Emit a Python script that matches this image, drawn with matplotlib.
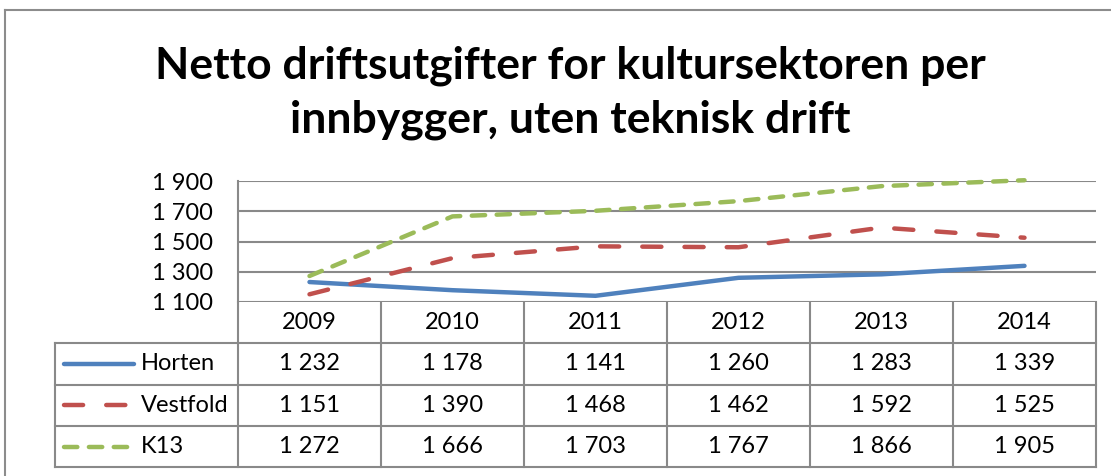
import matplotlib
matplotlib.use("Agg")
import matplotlib.pyplot as plt
from matplotlib.lines import Line2D

# data
years = ["2009", "2010", "2011", "2012", "2013", "2014"]
horten = [1232, 1178, 1141, 1260, 1283, 1339]
vestfold = [1151, 1390, 1468, 1462, 1592, 1525]
k13 = [1272, 1666, 1703, 1767, 1866, 1905]
series_names = ["Horten", "Vestfold", "K13"]
yticks = [1100, 1300, 1500, 1700, 1900]

title = "Netto driftsutgifter for kultursektoren per\ninnbygger, uten teknisk drift"

colors = ["#4F81BD", "#C0504D", "#9BBB59"]
dashes = [None, (4.3, 5.2), (3.0, 2.6)]
grid_c = "#898989"
font = ["Lato", "DejaVu Sans"]
plt.rcParams['font.family'] = font

W, H = 1111, 476
fig = plt.figure(figsize=(W / 100, H / 100), dpi=100)

# layout in pixels (from top-left)
px_left, px_right = 238, 1096
px_top, px_bot = 181, 302
tbl_left = 55
row_h = 41.3
lw_series = 3.2

def fx(x):
    return x / W

def fy(y):
    return 1 - y / H

def fmt(v):
    return f"{v:,}".replace(",", " ")

# overlay axes in pixel units for frame and table
ov = fig.add_axes([0, 0, 1, 1])
ov.set_xlim(0, W)
ov.set_ylim(H, 0)
ov.axis("off")

# chart frame
ov.plot([5, 5], [10, H + 5], color="#8c8c8c", lw=1.5)
ov.plot([5, W + 5], [10, 10], color="#8c8c8c", lw=1.5)

# title (baseline of the last line)
ov.text(570, 132, title, ha="center", va="baseline",
        fontsize=32, fontweight="bold", linespacing=1.38)

# line plot
ax = fig.add_axes([fx(px_left), fy(px_bot), fx(px_right - px_left), (px_bot - px_top) / H])
x = list(range(len(years)))
for vals, c, d in zip([horten, vestfold, k13], colors, dashes):
    ln, = ax.plot(x, vals, color=c, lw=lw_series, clip_on=False,
                  solid_capstyle="round", dash_capstyle="round")
    if d is not None:
        ln.set_dashes(d)
ax.set_xlim(-0.5, len(years) - 0.5)
ax.set_ylim(yticks[0], yticks[-1])
ax.set_yticks(yticks)
ax.set_yticklabels([fmt(v) for v in yticks], fontsize=17)
ax.set_xticks([])
ax.tick_params(axis="y", length=0, pad=18)
ax.grid(axis="y", color=grid_c, lw=1.5)
for s in ["top", "right", "bottom"]:
    ax.spines[s].set_visible(False)
ax.spines["left"].set_color(grid_c)
ax.spines["left"].set_linewidth(1.5)
ax.set_axisbelow(True)

# data table
col_w = (px_right - px_left) / len(years)
tbl_top = px_bot
rows_y = [tbl_top + row_h * i for i in range(5)]
tbl_bot = rows_y[-1]
lkw = dict(color=grid_c, lw=1.5)
# horizontal lines
ov.plot([px_left, px_right], [rows_y[1], rows_y[1]], **lkw)
ov.plot([tbl_left, px_left], [rows_y[1], rows_y[1]], **lkw)
for yy in rows_y[2:]:
    ov.plot([tbl_left, px_right], [yy, yy], **lkw)
# vertical lines
for i in range(len(years) + 1):
    xx = px_left + col_w * i
    ov.plot([xx, xx], [tbl_top, tbl_bot], **lkw)
ov.plot([tbl_left, tbl_left], [rows_y[1], tbl_bot], **lkw)

for i, yr in enumerate(years):
    ov.text(px_left + col_w * (i + 0.5), (rows_y[0] + rows_y[1]) / 2, yr,
            ha="center", va="center", fontsize=17)

for r, (name, vals, c, d) in enumerate(zip(series_names, [horten, vestfold, k13], colors, dashes)):
    yc = (rows_y[r + 1] + rows_y[r + 2]) / 2
    key = Line2D([64, 134], [yc, yc], color=c, lw=lw_series,
                 solid_capstyle="round", dash_capstyle="round")
    if d is not None:
        key.set_dashes(d)
    ov.add_line(key)
    ov.text(141, yc, name, ha="left", va="center", fontsize=17)
    for i, v in enumerate(vals):
        ov.text(px_left + col_w * (i + 0.5), yc, fmt(v),
                ha="center", va="center", fontsize=17)

fig.savefig("out.png", dpi=100)
